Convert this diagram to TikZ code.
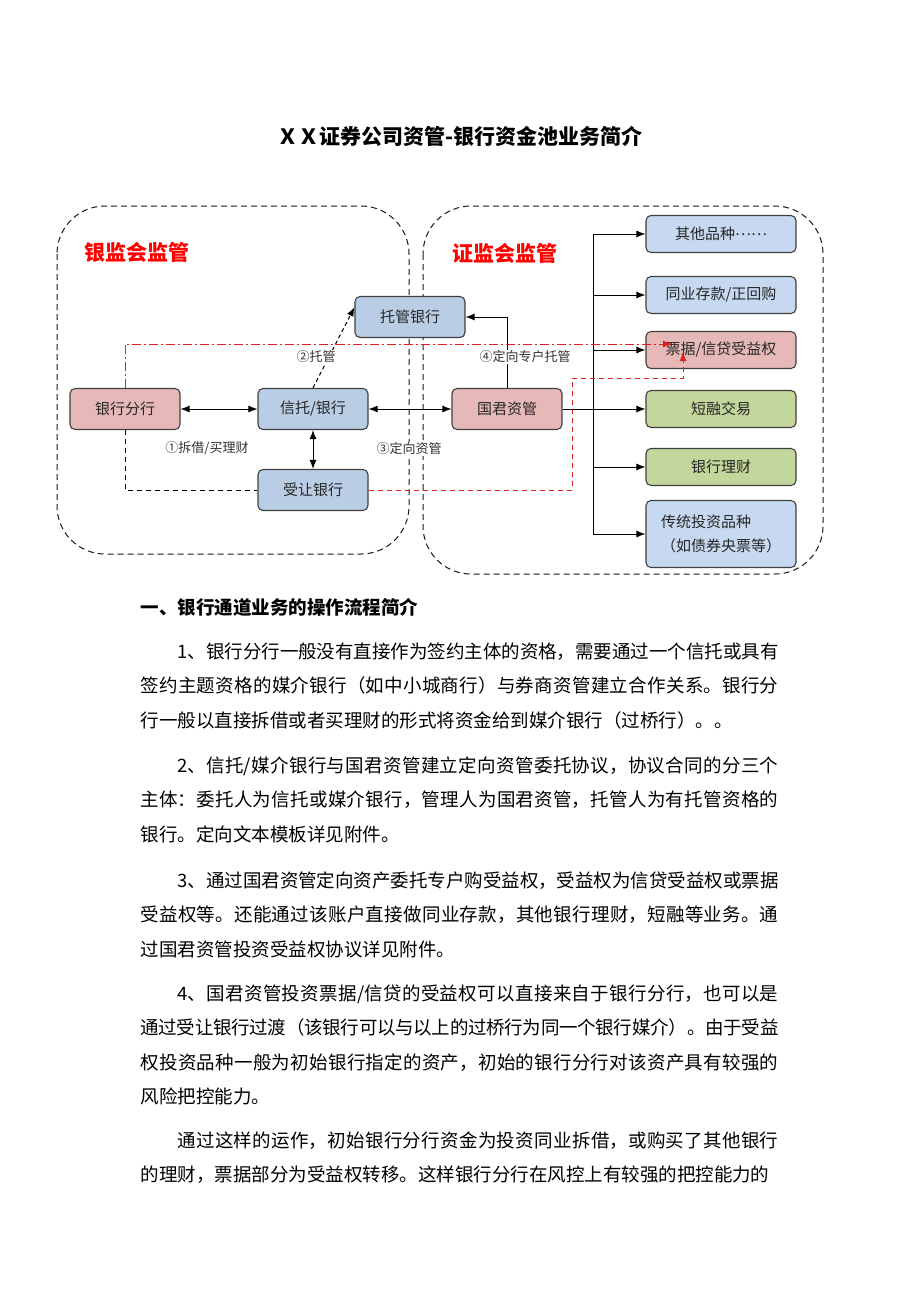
\documentclass[tikz,border=0pt]{standalone}
\usepackage{fontspec}
\setmainfont{Noto Sans CJK SC}
\usetikzlibrary{positioning}
\usetikzlibrary{arrows.meta}
\XeTeXlinebreaklocale "zh"
\XeTeXlinebreakskip=0pt plus 2pt minus 0.6pt
\definecolor{boxblue}{HTML}{B9CDE5}
\definecolor{lightblue}{HTML}{C6D9F1}
\definecolor{boxpink}{HTML}{E6B9B8}
\definecolor{boxgreen}{HTML}{C3D69B}
\definecolor{framegray}{HTML}{404040}
\definecolor{regred}{HTML}{FF0000}
\definecolor{linered}{HTML}{E02020}
\tikzset{box/.style={draw=framegray,line width=1.1pt,rounded corners=5pt,minimum width=110pt,minimum height=41pt,inner sep=2pt,text=black!85,font=\fontsize{15}{24}\selectfont}}
\tikzset{item/.style={box,minimum width=150pt,minimum height=37pt}}
\tikzset{lbl/.style={fill=white,inner sep=1pt,text=black!80,font=\fontsize{13}{15}\selectfont}}
\tikzset{region/.style={draw=black!90,dash pattern=on 6pt off 4pt,line width=1pt,rounded corners=48pt}}
\tikzset{head/.style={text=regred,font=\fontsize{21}{24}\selectfont\bfseries}}
\tikzset{para/.style={anchor=base west,inner sep=0pt,text width=638pt,align=justify,font=\fontsize{18.5}{34.5}\selectfont}}
\tikzset{>={Latex[length=9pt,width=7pt]}}

\begin{document}
\begin{tikzpicture}[x=1pt,y=-1pt,line width=1pt]
    \useasboundingbox (0,0) rectangle (920,1302);
    \fill[white] (0,0) rectangle (920,1302);
    \node[font=\fontsize{21}{24}\selectfont\bfseries] (title) at (460,136) {ＸＸ证券公司资管-银行资金池业务简介};

    % two supervision areas
    \draw[region] (57,206) rectangle (409,554);
    \draw[region] (423,206) rectangle (823,574);
    \node[head] (yjh) at (137,252) {银监会监管};
    \node[head] (zjh) at (505,253) {证监会监管};

    \node[box,fill=boxpink] (fen) at (125,409) {银行分行};
    \node[box,fill=boxblue] (xin) at (313,409) {信托/银行};
    \node[box,fill=boxblue] (shou) at (313,490) {受让银行};
    \node[box,fill=boxblue] (tuo) at (410,317) {托管银行};
    \node[box,fill=boxpink] (guo) at (507,409) {国君资管};

    \node[item,fill=lightblue] (qita) at (721,234) {其他品种\raisebox{0.3em}{……}};
    \node[item,fill=lightblue] (tongye) at (721,295) {同业存款/正回购};
    \node[item,fill=boxpink] (piaoju) at (721,350) {票据/信贷受益权};
    \node[item,fill=boxgreen] (duan) at (721,409) {短融交易};
    \node[item,fill=boxgreen] (licai) at (721,467) {银行理财};
    \node[item,fill=lightblue,minimum height=67pt,align=left] (chuan) at (721,534) {传统投资品种\\（如债券央票等）};

    \draw[<->] (fen) -- (xin);
    \draw[<->] (xin) -- (guo);
    \draw[<->] (xin) -- (shou);
    \draw[->] (xin.north) [dash pattern=on 4pt off 3pt] -- (tuo.170);
    \draw[->] (guo.north) |- (tuo.east);

    % fan-out to the products
    \coordinate (trunk) at (593,0);
    \draw[->] (guo) -- (duan);
    \draw (qita.west -| trunk) -- (chuan.west -| trunk);
    \foreach \t in {qita,tongye,piaoju,licai,chuan}
        \draw[->] (\t.west -| trunk) -- (\t.west);

    \node[lbl] (l1) at (207,448) {①拆借/买理财};
    \node[lbl] (l2) at (316,357) {②托管};
    \node[lbl] (l3) at (409,449) {③定向资管};
    \node[lbl] (l4) at (525,357) {④定向专户托管};

    \draw[dash pattern=on 5pt off 4pt] (fen.south) |- (shou.west);
    \coordinate (rturn) at (572,378);
    \coordinate (ptip) at (683,352);
    \coordinate (dtip) at (672,344);
    \draw[->,linered,dash pattern=on 5pt off 4pt] (shou.east) -| (rturn) -| (ptip);
    \draw[->,linered,dash pattern=on 9pt off 3pt on 2pt off 3pt] (fen.north) |- (dtip);

    % text below the diagram
    \node[anchor=base west,inner sep=0pt,font=\fontsize{18.5}{22}\selectfont\bfseries] (h1) at (140,614) {一、银行通道业务的操作流程简介};
    \node[para] (p1) at (140,658) {\hspace*{37pt}1、银行分行一般没有直接作为签约主体的资格，需要通过一个信托或具有\linebreak 签约主题资格的媒介银行（如中小城商行）与券商资管建立合作关系。银行分\linebreak 行一般以直接拆借或者买理财的形式将资金给到媒介银行（过桥行）。。};
    \node[para] (p2) at (140,772) {\hspace*{37pt}2、信托/媒介银行与国君资管建立定向资管委托协议，协议合同的分三个\linebreak 主体：委托人为信托或媒介银行，管理人为国君资管，托管人为有托管资格的\linebreak 银行。定向文本模板详见附件。};
    \node[para] (p3) at (140,887) {\hspace*{37pt}3、通过国君资管定向资产委托专户购受益权，受益权为信贷受益权或票据\linebreak 受益权等。还能通过该账户直接做同业存款，其他银行理财，短融等业务。通\linebreak 过国君资管投资受益权协议详见附件。};
    \node[para] (p4) at (140,1000) {\hspace*{37pt}4、国君资管投资票据/信贷的受益权可以直接来自于银行分行，也可以是\linebreak 通过受让银行过渡（该银行可以与以上的过桥行为同一个银行媒介）。由于受益\linebreak 权投资品种一般为初始银行指定的资产，初始的银行分行对该资产具有较强的\linebreak 风险把控能力。};
    \node[para] (p5) at (140,1147) {\parfillskip=0pt\hspace*{37pt}通过这样的运作，初始银行分行资金为投资同业拆借，或购买了其他银行\linebreak 的理财，票据部分为受益权转移。这样银行分行在风控上有较强的把控能力的};
\end{tikzpicture}
\end{document}
